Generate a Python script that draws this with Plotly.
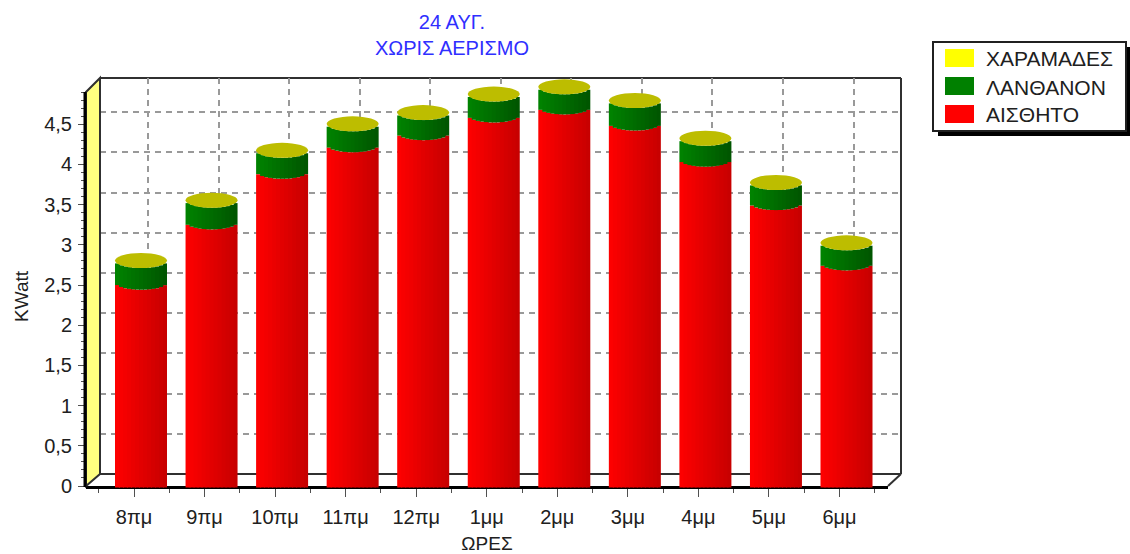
import plotly.graph_objects as go

# Data
hours = ["8πμ", "9πμ", "10πμ", "11πμ", "12πμ", "1μμ", "2μμ", "3μμ", "4μμ", "5μμ", "6μμ"]
aistheto = [2.46, 3.21, 3.84, 4.17, 4.32, 4.54, 4.64, 4.44, 3.99, 3.45, 2.70]
lanthanon = [0.27, 0.27, 0.26, 0.26, 0.25, 0.26, 0.25, 0.28, 0.26, 0.25, 0.25]
charamades = [0.0] * 11
y_ticks = [0, 0.5, 1, 1.5, 2, 2.5, 3, 3.5, 4, 4.5]
y_labels = ["0", "0,5", "1", "1,5", "2", "2,5", "3", "3,5", "4", "4,5"]

W, H = 1130, 554
L, R, T, B = 86, 901, 78, 492      # plot area in pixels
PW, PH = R - L, B - T
STEP = 70.55                       # pixels per category
UNIT = 80.4                        # pixels per kW

def px(x):
    return (x - L) / PW

def py(y):
    return (B - y) / PH

def pshape(x0, y0, x1, y1, **kw):
    return dict(type="rect", xref="paper", yref="paper", x0=px(x0), x1=px(x1), y0=py(y0), y1=py(y1), **kw)

def ppath(points, **kw):
    d = "M" + "L".join(f"{px(a):.5f},{py(b):.5f}" for a, b in points) + "Z"
    return dict(type="path", xref="paper", yref="paper", path=d, **kw)

def shade(c0, c1, t):
    return "rgb(" + ",".join(str(round(a + (b - a) * t)) for a, b in zip(c0, c1)) + ")"

fig = go.Figure()

# Cylinders as stacked facets so the shading and round edges are data-driven
SLICES = 13
BAR_W = 52 / STEP
CURVE = 7.5 / UNIT
xs = list(range(len(hours)))
for k in range(SLICES):
    t = (k + 0.5) / SLICES
    u = 2 * t - 1
    arc = CURVE * (1 - u * u) ** 0.5
    off = -BAR_W / 2 + k * BAR_W / SLICES
    wid = BAR_W / SLICES + (1.0 / STEP if k < SLICES - 1 else 0)
    red_top = [v - arc for v in aistheto]
    fig.add_trace(go.Bar(x=xs, y=[v - arc + CURVE for v in aistheto], base=[-CURVE] * len(xs), offset=off, width=wid,
                         marker=dict(color=shade((255, 0, 0), (198, 0, 0), t), line=dict(width=0), opacity=1),
                         xaxis="x3", yaxis="y3", name="ΑΙΣΘΗΤΟ", showlegend=False, hoverinfo="skip"))
    fig.add_trace(go.Bar(x=xs, y=lanthanon, base=red_top, offset=off, width=wid,
                         marker=dict(color=shade((0, 132, 0), (0, 84, 0), t), line=dict(width=0), opacity=1),
                         xaxis="x3", yaxis="y3", name="ΛΑΝΘΑΝΟΝ", showlegend=False, hoverinfo="skip"))

shapes = [
    dict(type="line", xref="paper", yref="paper", x0=px(100), x1=px(901), y0=py(78), y1=py(78),
         line=dict(color="#303030", width=2), layer="below"),
    dict(type="line", xref="paper", yref="paper", x0=px(901), x1=px(901), y0=py(78), y1=py(474),
         line=dict(color="#303030", width=2), layer="below"),
    dict(type="line", xref="paper", yref="paper", x0=px(100), x1=px(901), y0=py(474), y1=py(474),
         line=dict(color="#303030", width=2), layer="below"),
    dict(type="line", xref="paper", yref="paper", x0=px(888), x1=px(901), y0=py(486), y1=py(474),
         line=dict(color="#303030", width=2), layer="below"),
    # left wall
    ppath([(86, 92), (100, 78), (100, 474), (86, 486)], fillcolor="#FFFF80",
          line=dict(color="#303030", width=2), layer="above"),
    dict(type="line", xref="paper", yref="paper", x0=px(85), x1=px(85), y0=py(92), y1=py(487),
         line=dict(color="black", width=3), layer="above"),
    # legend
    pshape(938, 47, 1131, 136, fillcolor="black", line_width=0),
    pshape(933, 42, 1126, 131, fillcolor="white", line=dict(color="#202020", width=2)),
    pshape(945, 49, 974, 67, fillcolor="#FFFF00", line_width=0),
    pshape(945, 77, 974, 95, fillcolor="#008000", line_width=0),
    pshape(945, 105, 974, 123, fillcolor="#FF0000", line_width=0),
]

# Elliptical caps, positioned from the data
half_w = BAR_W / 2
for i, (a, b, c) in enumerate(zip(aistheto, lanthanon, charamades)):
    top = a + b + c
    shapes.append(dict(type="circle", xref="x3", yref="y3", x0=i - half_w, x1=i + half_w,
                       y0=top - CURVE, y1=top + CURVE, fillcolor="#BDBD00", line_width=0))

annotations = [
    dict(xref="paper", yref="paper", x=px(984), y=py(58), text="ΧΑΡΑΜΑΔΕΣ", showarrow=False, xanchor="left", yanchor="middle", font=dict(size=21)),
    dict(xref="paper", yref="paper", x=px(984), y=py(87), text="ΛΑΝΘΑΝΟΝ", showarrow=False, xanchor="left", yanchor="middle", font=dict(size=21)),
    dict(xref="paper", yref="paper", x=px(984), y=py(115), text="ΑΙΣΘΗΤΟ", showarrow=False, xanchor="left", yanchor="middle", font=dict(size=21)),
    dict(xref="paper", yref="paper", x=px(21), y=py(296), text="KWatt", showarrow=False, textangle=-90,
         xanchor="center", yanchor="middle", font=dict(size=19)),
]

FONT = "Liberation Sans, Arial, sans-serif"
GRID = dict(showgrid=True, gridcolor="#999999", griddash="6px,5px", gridwidth=2, zeroline=False,
            showticklabels=False, ticks="", showline=False)

fig.update_layout(
    width=W, height=H, margin=dict(l=L, r=W - R, t=T, b=H - B, autoexpand=False),
    paper_bgcolor="white", plot_bgcolor="rgba(0,0,0,0)", barmode="overlay", showlegend=False,
    font=dict(family=FONT, size=20, color="#202020"),
    title=dict(text="24 ΑΥΓ.<br>ΧΩΡΙΣ ΑΕΡΙΣΜΟ", x=452 / W, xanchor="center", y=1 - 29 / H, yanchor="middle",
               font=dict(family=FONT, size=20, color="#2F2FFF")),
    # front axes: labels and ticks
    xaxis=dict(domain=[0, (888 - L) / PW], range=[(86 - 134) / STEP, (888 - 134) / STEP], anchor="y",
               tickmode="array", tickvals=xs, ticktext=hours,
               ticks="outside", ticklen=8, tickwidth=1, tickcolor="#505050", tickfont=dict(size=20),
               ticklabelstandoff=3,
               showgrid=False, zeroline=False, showline=True, linecolor="black", linewidth=3,
               minor=dict(tickmode="array", tickvals=[i - 0.5 for i in range(len(hours) + 1)],
                          ticks="outside", ticklen=4, tickcolor="#505050", tickwidth=1),
               title=dict(text="ΩΡΕΣ", font=dict(size=19), standoff=10)),
    yaxis=dict(domain=[py(486), py(92)], range=[0, (486 - 92) / UNIT], anchor="x",
               tickmode="array", tickvals=y_ticks, ticktext=y_labels, ticks="outside", ticklen=7, tickwidth=1,
               tickcolor="#505050", tickfont=dict(size=20), showgrid=False, zeroline=False,
               ticklabelstandoff=2,
               minor=dict(dtick=0.1, ticks="outside", ticklen=4, tickcolor="#505050", tickwidth=1)),
    # back wall grid
    xaxis2=dict(domain=[px(100), 1], range=[(100 - 148) / STEP, (901 - 148) / STEP], anchor="y2",
                tickmode="array", tickvals=xs, **GRID),
    yaxis2=dict(domain=[py(474), 1], range=[0, (474 - 78) / UNIT], anchor="x2",
                tickmode="array", tickvals=y_ticks[1:], **GRID),
    # marks: mid-depth plane of the cylinders
    xaxis3=dict(domain=[0, 1], range=[(L - 141) / STEP, (R - 141) / STEP], anchor="y3", visible=False),
    yaxis3=dict(domain=[0, 1], range=[(480 - B) / UNIT, (480 - T) / UNIT], anchor="x3", visible=False),
    shapes=shapes,
    annotations=annotations,
)

# Empty traces so the front and back axes are drawn
fig.add_trace(go.Scatter(x=[None], y=[None], xaxis="x", yaxis="y", showlegend=False))
fig.add_trace(go.Scatter(x=[None], y=[None], xaxis="x2", yaxis="y2", showlegend=False))

fig.write_html("out.html", config={"displayModeBar": False},
               post_script="document.body.style.margin='0';document.body.style.overflow='hidden';")
